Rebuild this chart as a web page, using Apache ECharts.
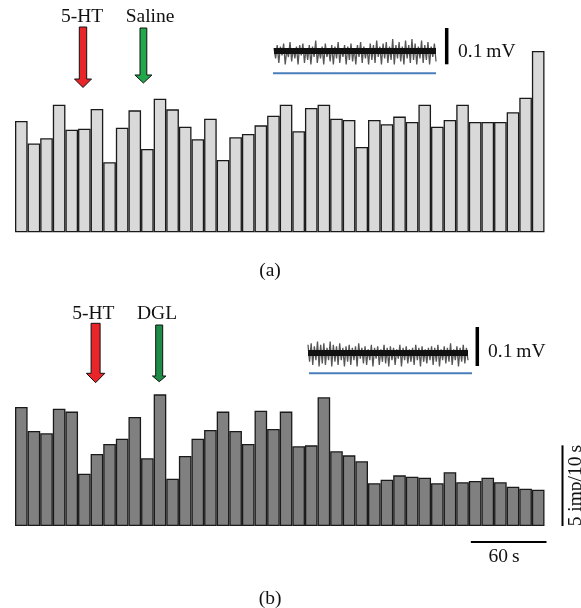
<!DOCTYPE html>
<html>
<head>
<meta charset="utf-8">
<script src="https://cdn.jsdelivr.net/npm/echarts@6/dist/echarts.min.js"></script>
<style>html,body{margin:0;padding:0;background:#fff;}#c{width:581px;height:608px;}</style>
</head>
<body>
<div id="c"></div>
<script>
// ---- data (imp/10 s per 10-s bin) ----
const bins = Array.from({length: 42}, (_, i) => String(i + 1));
const rateA = [6.9,5.5,5.83,7.91,6.36,6.42,7.64,4.34,6.48,7.56,5.16,8.28,7.62,6.55,5.77,7.04,4.48,5.89,6.09,6.63,7.23,7.91,6.26,7.71,7.91,7.04,6.96,5.29,6.96,6.7,7.17,6.84,7.91,6.55,6.96,7.91,6.84,6.84,6.84,7.44,8.34,11.24];
const rateB = [7.38,5.89,5.75,7.27,7.09,3.24,4.46,5.08,5.41,6.76,4.2,8.16,2.93,4.34,5.41,5.95,7.09,5.89,5.08,7.15,6.01,7.09,4.94,5.0,7.98,4.63,4.38,4.01,2.65,2.87,3.14,3.06,2.99,2.65,3.33,2.71,2.79,2.99,2.71,2.44,2.31,2.25];
// raw extracellular traces (relative amplitude)
const traceA = [0.2,-0.5,0.4,-0.8,0.3,-0.3,0.5,-0.9,0.1,-0.4,0.6,-0.7,0.2,-0.5,0.3,-0.9,0.4,-0.3,0.5,-0.8,0.2,-0.6,0.4,-0.9,0.3,-0.4,0.7,-0.8,0.1,-0.5,0.3,-0.9,0.5,-0.4,0.2,-0.7,0.4,-0.9,0.3,-0.5,0.6,-0.8,0.2,-0.4,0.4,-0.9,0.3,-0.6,0.5,-0.7,0.2,-0.9,0.4,-0.4,0.6,-0.8,0.3,-0.5,0.2,-0.9,0.5,-0.6,0.4,-0.8,0.7,-0.4,0.3,-0.9,0.5,-0.5,0.6,-0.8,0.3,-0.6,0.8,-0.9,0.4,-0.5,0.6,-0.7,0.3,-0.9,0.7,-0.5,0.4,-0.8,0.8,-0.6,0.5,-0.9,0.3,-0.5,0.7,-0.8,0.4,-0.6,0.6,-0.9,0.3,-0.4,0.5,-0.7];
const traceB = [0.5,-0.6,0.6,-0.8,0.4,-0.5,0.7,-0.9,0.5,-0.7,0.6,-0.8,0.3,-0.5,0.7,-0.9,0.5,-0.6,0.4,-0.8,0.6,-0.5,0.3,-0.9,0.4,-0.6,0.5,-0.8,0.3,-0.5,0.4,-0.9,0.6,-0.4,0.3,-0.7,0.4,-0.8,0.2,-0.5,0.5,-0.9,0.3,-0.4,0.4,-0.8,0.2,-0.6,0.5,-0.7,0.3,-0.9,0.4,-0.5,0.3,-0.8,0.2,-0.4,0.5,-0.9,0.3,-0.5,0.4,-0.7,0.2,-0.6,0.3,-0.8,0.5,-0.5,0.3,-0.9,0.4,-0.6,0.2,-0.7,0.3,-0.5,0.4,-0.8,0.3,-0.6,0.5,-0.9,0.2,-0.5,0.4,-0.7,0.3,-0.6,0.6,-0.8,0.2,-0.5,0.4,-0.9,0.3,-0.6,0.5,-0.7,0.3,-0.5];
const traceIdxA = traceA.map((_, i) => i);
const traceIdxB = traceB.map((_, i) => i);

const FONT = '"Liberation Serif", "DejaVu Serif", serif';
const FS = 19.5;
const chart = echarts.init(document.getElementById('c'));

function arrow(cx, top, headTop, tip, shaftW, headW, fill) {
  return {
    type: 'polygon',
    shape: { points: [
      [cx - shaftW / 2, top], [cx + shaftW / 2, top], [cx + shaftW / 2, headTop],
      [cx + headW / 2, headTop], [cx, tip], [cx - headW / 2, headTop], [cx - shaftW / 2, headTop]
    ]},
    style: { fill: fill, stroke: '#111', lineWidth: 1 }
  };
}
function txt(x, y, s, align, size, rot) {
  return {
    type: 'text', x: x, y: y, rotation: rot || 0,
    style: { text: s, fill: '#111', font: (size || FS) + 'px ' + FONT, align: align || 'center', verticalAlign: 'middle' }
  };
}
function line(x1, y1, x2, y2, w, c) {
  return { type: 'line', shape: { x1: x1, y1: y1, x2: x2, y2: y2 }, style: { stroke: c || '#000', lineWidth: w } };
}

const barStyle = (fill) => ({ color: fill, borderColor: '#1a1a1a', borderWidth: 1.3 });
const core = { silent: true, symbol: 'none', label: { show: false }, lineStyle: { color: '#111', width: 6, type: 'solid' }, data: [{ yAxis: 0 }] };

chart.setOption({
  backgroundColor: '#fff',
  animation: false,
  grid: [
    { left: 15, width: 529.5, top: 38.7, height: 193.6 },
    { left: 15, width: 529.5, top: 380.8, height: 145.2 },
    { left: 274, width: 162, top: 36, height: 30 },
    { left: 308, width: 160, top: 337, height: 31 }
  ],
  xAxis: [
    { type: 'category', data: bins, gridIndex: 0, show: false },
    { type: 'category', data: bins, gridIndex: 1, show: false },
    { type: 'category', data: traceIdxA, gridIndex: 2, show: false, boundaryGap: false },
    { type: 'category', data: traceIdxB, gridIndex: 3, show: false, boundaryGap: false }
  ],
  yAxis: [
    { type: 'value', gridIndex: 0, min: 0, max: 12, show: false },
    { type: 'value', gridIndex: 1, min: 0, max: 9, show: false },
    { type: 'value', gridIndex: 2, min: -1, max: 1, show: false },
    { type: 'value', gridIndex: 3, min: -1, max: 1, show: false }
  ],
  series: [
    { type: 'bar', xAxisIndex: 0, yAxisIndex: 0, data: rateA, barCategoryGap: '0%', itemStyle: barStyle('#d9d9d9') },
    { type: 'bar', xAxisIndex: 1, yAxisIndex: 1, data: rateB, barCategoryGap: '0%', itemStyle: barStyle('#808080') },
    { type: 'line', xAxisIndex: 2, yAxisIndex: 2, data: traceA, symbol: 'none', lineStyle: { color: '#555', width: 1.3 }, markLine: core },
    { type: 'line', xAxisIndex: 3, yAxisIndex: 3, data: traceB, symbol: 'none', lineStyle: { color: '#555', width: 1.3 }, markLine: core }
  ]
});

// scale bars tied to the rate axis of panel (b)
const y0 = chart.convertToPixel({ yAxisIndex: 1 }, 0);
const y5 = chart.convertToPixel({ yAxisIndex: 1 }, 5);
const xs0 = chart.convertToPixel({ xAxisIndex: 1 }, '37');
const xs1 = chart.convertToPixel({ xAxisIndex: 1 }, '42');
const bw = (xs1 - xs0) / 5;

chart.setOption({
  graphic: [
    // panel (a)
    txt(82, 17, '5-HT'), txt(150, 17, 'Saline'),
    arrow(83, 27, 79, 87.5, 7.4, 17, '#e8262a'),
    arrow(143.4, 28, 75, 83, 6.8, 17, '#22a84c'),
    line(273, 73.3, 436, 73.3, 2, '#4a7ebb'),
    line(446.7, 28, 446.7, 64.3, 3.5),
    txt(458, 52, '0.1\u2009mV', 'left'),
    txt(270, 271, '(a)'),
    // panel (b)
    txt(93.3, 314, '5-HT'), txt(157, 314, 'DGL'),
    arrow(95.6, 323.3, 373.3, 382.7, 9, 18.5, '#e8262a'),
    arrow(159.2, 325, 376, 381.7, 7, 13.5, '#1e8c46'),
    line(309, 373.3, 472, 373.3, 2, '#4a7ebb'),
    line(477.3, 327, 477.3, 366, 3.5),
    txt(488, 352, '0.1\u2009mV', 'left'),
    line(562.5, y5, 562.5, y0, 2),
    txt(576, (y0 + y5) / 2, '5 imp/10\u2009s', 'center', FS, Math.PI / 2),
    line(xs0 - bw / 2 + 2, 542, xs1 + bw / 2 + 2, 542, 2),
    txt(504, 557, '60\u2009s'),
    txt(270, 599, '(b)')
  ]
});
</script>
</body>
</html>
